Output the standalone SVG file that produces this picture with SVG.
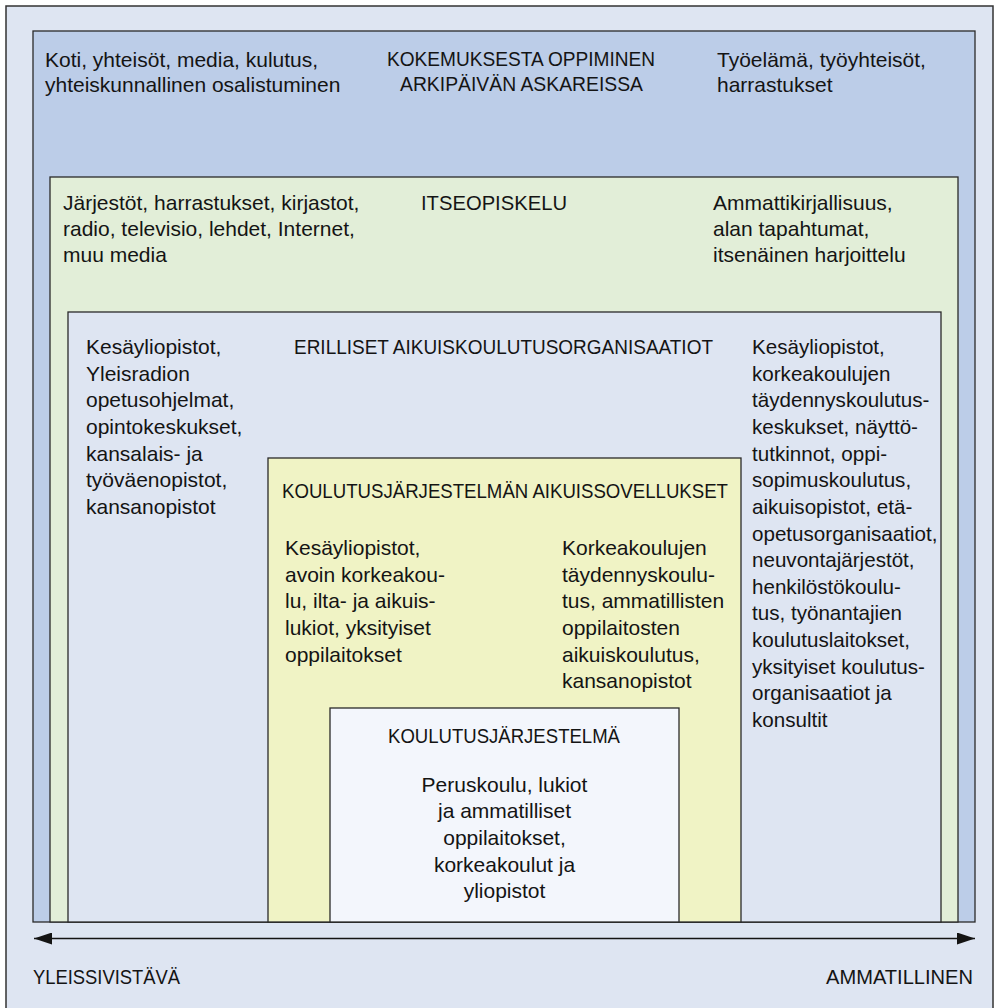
<svg xmlns="http://www.w3.org/2000/svg" width="1000" height="1008" viewBox="0 0 1000 1008">
<style>
text{font-family:"Liberation Sans",Arial,sans-serif;font-size:21px;fill:#141414}
.box{stroke:#2a2a2a;stroke-width:1.3}
.c{text-anchor:middle}
.rc{font-size:20.6px}
</style>
<defs>
<marker id="ah" viewBox="0 0 18 12" refX="18" refY="6" markerWidth="18" markerHeight="12" markerUnits="userSpaceOnUse" orient="auto-start-reverse">
<path d="M0,0 L18,6 L0,12 Z" fill="#141414"/>
</marker>
</defs>
<rect x="0" y="0" width="1000" height="1008" fill="#ffffff"/>
<g id="frame">
<rect x="6" y="6" width="987" height="1010" fill="#dee5f2" stroke="#333" stroke-width="1.5"/>
</g>
<g id="kokemus">
<rect class="box" x="33" y="31" width="942" height="891" fill="#bccde8"/>
<text x="45" y="67">Koti, yhteisöt, media, kulutus,</text>
<text x="45" y="92">yhteiskunnallinen osalistuminen</text>
<text x="387" y="66" textLength="268" lengthAdjust="spacingAndGlyphs">KOKEMUKSESTA OPPIMINEN</text>
<text x="400" y="91" textLength="243" lengthAdjust="spacingAndGlyphs">ARKIPÄIVÄN ASKAREISSA</text>
<text x="717" y="67">Työelämä, työyhteisöt,</text>
<text x="717" y="92">harrastukset</text>
</g>
<g id="itseopiskelu">
<rect class="box" x="50" y="177" width="908" height="745" fill="#e2eed8"/>
<text x="63" y="210">Järjestöt, harrastukset, kirjastot,</text>
<text x="63" y="236">radio, televisio, lehdet, Internet,</text>
<text x="63" y="262">muu media</text>
<text x="421" y="210" textLength="146" lengthAdjust="spacingAndGlyphs">ITSEOPISKELU</text>
<text x="713" y="210">Ammattikirjallisuus,</text>
<text x="713" y="236">alan tapahtumat,</text>
<text x="713" y="262">itsenäinen harjoittelu</text>
</g>
<g id="erilliset">
<rect class="box" x="68" y="312" width="873" height="610" fill="#dee5f2"/>
<text x="86" y="354">Kesäyliopistot,</text>
<text x="86" y="381">Yleisradion</text>
<text x="86" y="407">opetusohjelmat,</text>
<text x="86" y="434">opintokeskukset,</text>
<text x="86" y="461">kansalais- ja</text>
<text x="86" y="487">työväenopistot,</text>
<text x="86" y="514">kansanopistot</text>
<text x="294" y="354" textLength="419" lengthAdjust="spacingAndGlyphs">ERILLISET AIKUISKOULUTUSORGANISAATIOT</text>
<g class="rc">
<text class="rc" x="752" y="354">Kesäyliopistot,</text>
<text class="rc" x="752" y="381">korkeakoulujen</text>
<text class="rc" x="752" y="407">täydennyskoulutus-</text>
<text class="rc" x="752" y="434">keskukset, näyttö-</text>
<text class="rc" x="752" y="461">tutkinnot, oppi-</text>
<text class="rc" x="752" y="487">sopimuskoulutus,</text>
<text class="rc" x="752" y="514">aikuisopistot, etä-</text>
<text class="rc" x="752" y="541">opetusorganisaatiot,</text>
<text class="rc" x="752" y="567">neuvontajärjestöt,</text>
<text class="rc" x="752" y="594">henkilöstökoulu-</text>
<text class="rc" x="752" y="620">tus, työnantajien</text>
<text class="rc" x="752" y="647">koulutuslaitokset,</text>
<text class="rc" x="752" y="674">yksityiset koulutus-</text>
<text class="rc" x="752" y="700">organisaatiot ja</text>
<text class="rc" x="752" y="727">konsultit</text>
</g>
</g>
<g id="aikuissovellukset">
<rect class="box" x="268" y="458" width="473" height="464" fill="#f0f3c5"/>
<text x="282" y="498" textLength="446" lengthAdjust="spacingAndGlyphs">KOULUTUSJÄRJESTELMÄN AIKUISSOVELLUKSET</text>
<text x="285" y="555">Kesäyliopistot,</text>
<text x="285" y="582">avoin korkeakou-</text>
<text x="285" y="608">lu, ilta- ja aikuis-</text>
<text x="285" y="635">lukiot, yksityiset</text>
<text x="285" y="662">oppilaitokset</text>
<text x="562" y="555">Korkeakoulujen</text>
<text x="562" y="582">täydennyskoulu-</text>
<text x="562" y="608">tus, ammatillisten</text>
<text x="562" y="635">oppilaitosten</text>
<text x="562" y="662">aikuiskoulutus,</text>
<text x="562" y="688">kansanopistot</text>
</g>
<g id="koulutusjarjestelma">
<rect class="box" x="330" y="708" width="349" height="214" fill="#f3f6fc"/>
<text x="388" y="743" textLength="232" lengthAdjust="spacingAndGlyphs">KOULUTUSJÄRJESTELMÄ</text>
<text class="c" x="504.5" y="792">Peruskoulu, lukiot</text>
<text class="c" x="504.5" y="818">ja ammatilliset</text>
<text class="c" x="504.5" y="845">oppilaitokset,</text>
<text class="c" x="504.5" y="872">korkeakoulut ja</text>
<text class="c" x="504.5" y="898">yliopistot</text>
</g>
<g id="connectors">
<line x1="34" y1="938.5" x2="975" y2="938.5" stroke="#141414" stroke-width="1.3" marker-start="url(#ah)" marker-end="url(#ah)"/>
</g>
<g id="labels">
<text x="33" y="984" textLength="147" lengthAdjust="spacingAndGlyphs">YLEISSIVISTÄVÄ</text>
<text x="826" y="984" textLength="147" lengthAdjust="spacingAndGlyphs">AMMATILLINEN</text>
</g>
</svg>
